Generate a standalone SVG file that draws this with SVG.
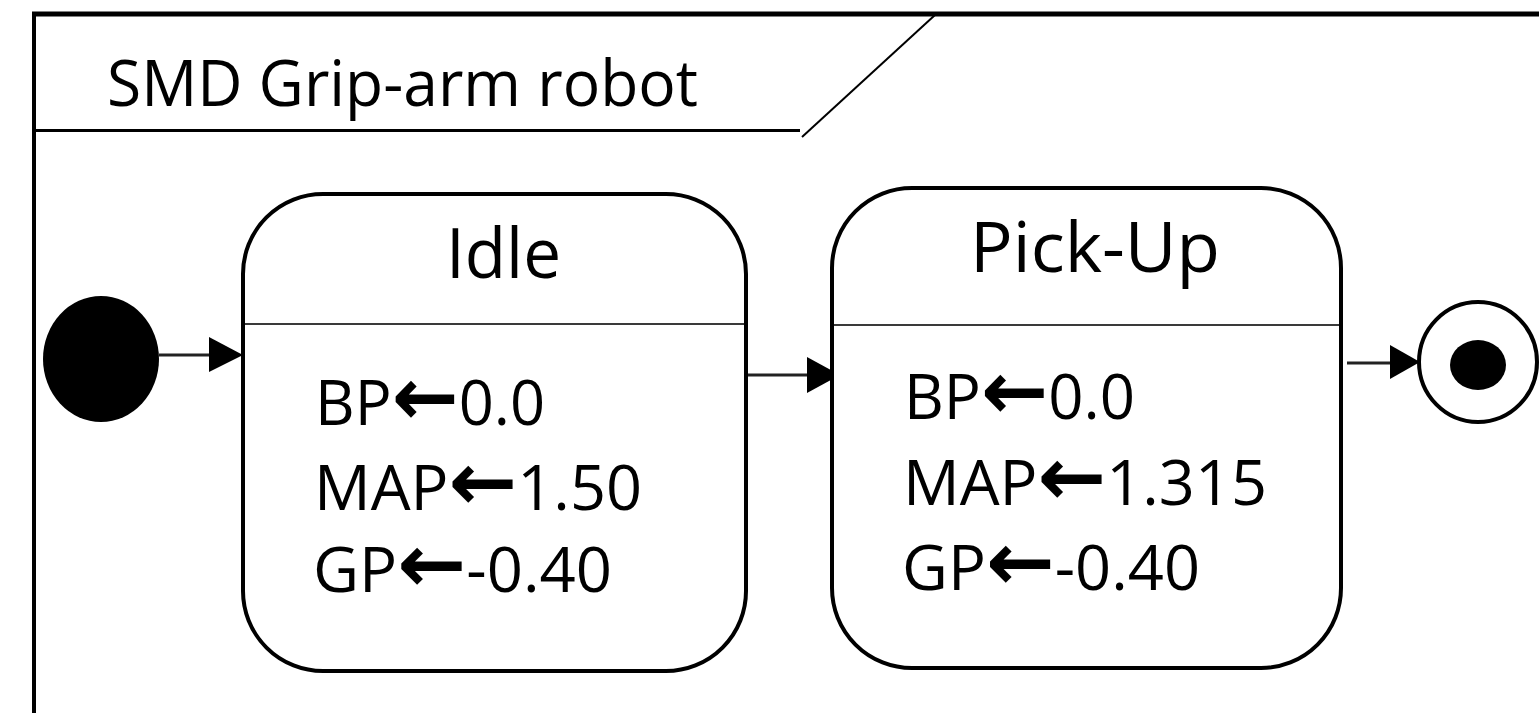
<svg xmlns="http://www.w3.org/2000/svg" width="1539" height="713" viewBox="0 0 1539 713">
  <style>
    .frame { stroke: #000; fill: none; }
    .state { fill: #fff; stroke: #000; stroke-width: 4; }
    .sep { stroke: #3a3a3a; stroke-width: 2; }
    .edge { stroke: #222; stroke-width: 3; fill: none; }
    .head { fill: #000; stroke: none; }
    text { font-family: "Open Sans", "DejaVu Sans", sans-serif; fill: #000; }
    .title { font-size: 64px; }
    .name { font-size: 70px; text-anchor: middle; }
    .body { font-size: 63px; }
    .arr { font-family: "DejaVu Sans", sans-serif; font-weight: bold; font-size: 82px; }
  </style>
  <rect width="1539" height="713" fill="#fff"/>

  <!-- diagram frame with name tab -->
  <g id="frame">
    <line class="frame" x1="32" y1="14" x2="1539" y2="14" stroke-width="5"/>
    <line class="frame" x1="34" y1="12" x2="34" y2="713" stroke-width="4"/>
    <line class="frame" x1="34" y1="130.5" x2="800" y2="130.5" stroke-width="3"/>
    <line class="frame" x1="802" y1="137" x2="935" y2="15" stroke="#555" stroke-width="2"/>
    <text class="title" x="107" y="106" textLength="591" lengthAdjust="spacingAndGlyphs">SMD Grip-arm robot</text>
  </g>

  <!-- transitions -->
  <g id="connectors">
    <line class="edge" x1="159" y1="355" x2="212" y2="355"/>
    <polygon class="head" points="209,337 243,355 209,372"/>
    <line class="edge" x1="739" y1="375" x2="810" y2="375"/>
    <polygon class="head" points="807,357 840,375 807,393"/>
    <line class="edge" x1="1347" y1="363" x2="1392" y2="363"/>
    <polygon class="head" points="1390,345 1420,362 1390,379"/>
  </g>

  <g id="initial">
    <ellipse cx="101" cy="359" rx="58" ry="63" fill="#000"/>
  </g>

  <g id="idle">
    <rect class="state" x="243" y="194" width="503" height="477" rx="80" ry="80"/>
    <line class="sep" x1="245" y1="324" x2="744" y2="324"/>
    <text class="name" x="503.5" y="278" textLength="115" lengthAdjust="spacingAndGlyphs">Idle</text>
    <text class="body" x="315" y="425" textLength="230" lengthAdjust="spacingAndGlyphs">BP<tspan class="arr">←</tspan>0.0</text>
    <text class="body" x="314" y="510" textLength="328" lengthAdjust="spacingAndGlyphs">MAP<tspan class="arr">←</tspan>1.50</text>
    <text class="body" x="313" y="592" textLength="299" lengthAdjust="spacingAndGlyphs">GP<tspan class="arr">←</tspan>-0.40</text>
  </g>

  <g id="pickup">
    <rect class="state" x="832" y="188" width="509" height="480" rx="80" ry="80"/>
    <line class="sep" x1="834" y1="325" x2="1339" y2="325"/>
    <text class="name" x="1095" y="272" textLength="250" lengthAdjust="spacingAndGlyphs">Pick-Up</text>
    <text class="body" x="904" y="419" textLength="231" lengthAdjust="spacingAndGlyphs">BP<tspan class="arr">←</tspan>0.0</text>
    <text class="body" x="903" y="505" textLength="364" lengthAdjust="spacingAndGlyphs">MAP<tspan class="arr">←</tspan>1.315</text>
    <text class="body" x="902" y="590" textLength="298" lengthAdjust="spacingAndGlyphs">GP<tspan class="arr">←</tspan>-0.40</text>
  </g>

  <g id="final">
    <ellipse cx="1478" cy="362" rx="59" ry="60" fill="#fff" stroke="#000" stroke-width="4"/>
    <ellipse cx="1478" cy="365" rx="28" ry="25" fill="#000"/>
  </g>
</svg>
